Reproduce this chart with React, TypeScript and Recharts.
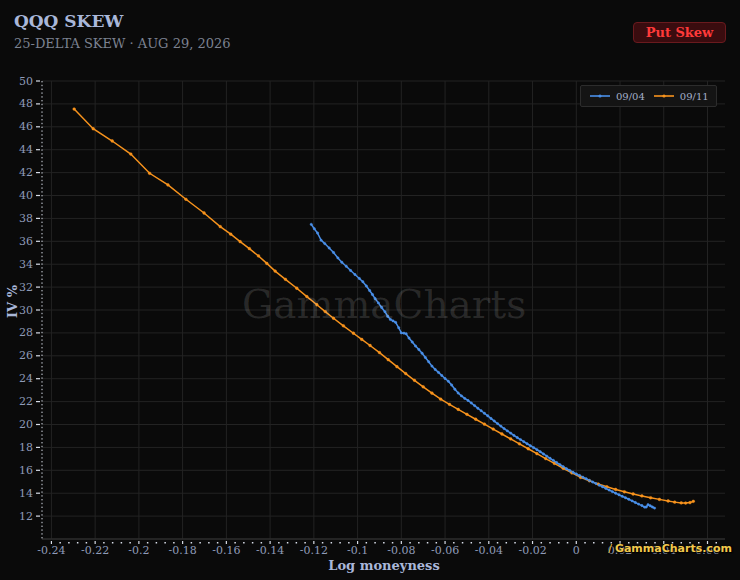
import { CartesianGrid, Line, LineChart, ReferenceLine, XAxis, YAxis } from "recharts";

// 09/04 expiry: [log moneyness, IV %]
const exp0904X = [
  -0.1212, -0.1198, -0.1183, -0.1167, -0.115, -0.113, -0.111, -0.109, -0.1072, -0.1052,
  -0.1032, -0.1012, -0.0992, -0.0976, -0.096, -0.0945, -0.0932, -0.092, -0.0905, -0.089,
  -0.0875, -0.0862, -0.085, -0.0838, -0.0826, -0.0812, -0.08, -0.0788, -0.0778, -0.0765,
  -0.075, -0.0735, -0.072, -0.0705, -0.069, -0.0675, -0.066, -0.0645, -0.063, -0.0615,
  -0.06, -0.0585, -0.057, -0.0555, -0.054, -0.0525, -0.051, -0.0495, -0.048, -0.0465,
  -0.045, -0.0435, -0.042, -0.0405, -0.039, -0.0375, -0.036, -0.0345, -0.033, -0.0315,
  -0.03, -0.0285, -0.027, -0.0255, -0.024, -0.0225, -0.021, -0.0195, -0.018, -0.0165,
  -0.015, -0.0135, -0.012, -0.0105, -0.009, -0.0075, -0.006, -0.0045, -0.003, -0.0015,
  0, 0.0015, 0.003, 0.0045, 0.006, 0.0075, 0.009, 0.0105, 0.012, 0.0135,
  0.015, 0.0165, 0.018, 0.0195, 0.021, 0.0225, 0.024, 0.0255, 0.027, 0.0285,
  0.03, 0.0313, 0.032, 0.0328, 0.0338, 0.0348, 0.0358,
];
const exp0904Iv = [
  37.48, 37.1, 36.72, 36.1, 35.8, 35.42, 35.02, 34.55, 34.17, 33.82,
  33.45, 33.1, 32.75, 32.47, 32.1, 31.7, 31.35, 31.0, 30.62, 30.22,
  29.85, 29.45, 29.18, 29.05, 28.92, 28.45, 28.0, 27.98, 27.92, 27.55,
  27.2, 26.85, 26.55, 26.22, 25.85, 25.48, 25.1, 24.8, 24.55, 24.28,
  24.02, 23.78, 23.45, 23.08, 22.75, 22.5, 22.28, 22.1, 21.88, 21.65,
  21.42, 21.2, 20.98, 20.76, 20.53, 20.3, 20.08, 19.86, 19.64, 19.44,
  19.25, 19.05, 18.86, 18.68, 18.5, 18.32, 18.15, 17.98, 17.8, 17.62,
  17.43, 17.24, 17.05, 16.87, 16.68, 16.5, 16.32, 16.14, 15.98, 15.83,
  15.68, 15.54, 15.4, 15.26, 15.12, 14.98, 14.84, 14.7, 14.56, 14.42,
  14.28, 14.14, 14.0, 13.86, 13.73, 13.6, 13.47, 13.33, 13.19, 13.05,
  12.92, 12.78, 12.8, 13.0, 12.9, 12.8, 12.7,
];

// 09/11 expiry
const exp0911X = [
  -0.2296, -0.2209, -0.2122, -0.2037, -0.1951, -0.1867, -0.1785, -0.1702, -0.1628, -0.158,
  -0.1537, -0.1495, -0.1453, -0.1415, -0.1377, -0.133, -0.1278, -0.1232, -0.1186, -0.1148,
  -0.111, -0.1065, -0.1019, -0.0981, -0.0943, -0.09, -0.086, -0.082, -0.078, -0.074,
  -0.07, -0.066, -0.062, -0.058, -0.054, -0.05, -0.046, -0.042, -0.038, -0.034,
  -0.03, -0.026, -0.022, -0.018, -0.014, -0.01, -0.006, -0.002, 0.002, 0.006,
  0.01, 0.014, 0.018, 0.022, 0.026, 0.03, 0.034, 0.038, 0.042, 0.045,
  0.048, 0.05, 0.052, 0.0535,
];
const exp0911Iv = [
  47.55, 45.83, 44.76, 43.62, 41.94, 40.92, 39.67, 38.47, 37.28, 36.62,
  35.97, 35.36, 34.72, 34.07, 33.4, 32.68, 31.9, 31.17, 30.46, 29.86,
  29.28, 28.62, 27.97, 27.43, 26.9, 26.28, 25.66, 25.05, 24.45, 23.86,
  23.29, 22.74, 22.21, 21.76, 21.32, 20.89, 20.46, 20.03, 19.6, 19.17,
  18.74, 18.31, 17.88, 17.45, 17.02, 16.6, 16.18, 15.77, 15.38, 15.08,
  14.8, 14.56, 14.33, 14.12, 13.93, 13.76, 13.6, 13.46, 13.32, 13.22,
  13.15, 13.14, 13.18, 13.29,
];

const xMajorTicks = [
  -0.24, -0.22, -0.2, -0.18, -0.16, -0.14, -0.12, -0.1, -0.08, -0.06, -0.04, -0.02, 0, 0.02,
  0.04, 0.06,
];
const yTicks = [12, 14, 16, 18, 20, 22, 24, 26, 28, 30, 32, 34, 36, 38, 40, 42, 44, 46, 48, 50];

const BLUE = "#4a8fe8";
const ORANGE = "#f7931d";
const LABEL = "#a9b7d9";
const TICK_TEXT = "#8f9bb8";
const FONT = "'DejaVu Serif', serif";

const series0904 = exp0904X.map((x, i) => ({ x, iv: exp0904Iv[i] }));
const series0911 = exp0911X.map((x, i) => ({ x, iv: exp0911Iv[i] }));

// majors plus 4 minor ticks between each pair
const xAllTicks: number[] = [];
xMajorTicks.forEach((t, i) => {
  xAllTicks.push(t);
  const next = xMajorTicks[i + 1] ?? 0.068;
  for (let k = 1; k <= 4; k++) {
    const v = +(t + k * 0.004).toFixed(4);
    if (v < next && v <= 0.068) xAllTicks.push(v);
  }
});

const isMajor = (v: number) => Math.abs(v * 50 - Math.round(v * 50)) < 1e-6;

function XTick(props: any) {
  const { x, y, payload } = props;
  const v = payload.value as number;
  if (!isMajor(v)) {
    return <rect x={x - 0.75} y={y + 1} width={1.5} height={1.5} fill="#d8dde8" />;
  }
  return (
    <g>
      <line x1={x} x2={x} y1={y} y2={y + 3} stroke="#d8dde8" strokeWidth={1.2} />
      <text x={x} y={y + 13} textAnchor="middle" fill={TICK_TEXT} fontSize={11} fontFamily={FONT}>
        {String(+v.toFixed(2))}
      </text>
    </g>
  );
}

function YTick(props: any) {
  const { x, y, payload } = props;
  return (
    <g>
      <line x1={x - 4} x2={x} y1={y} y2={y} stroke="#d8dde8" strokeWidth={1.2} />
      <text
        x={x - 7}
        y={y}
        textAnchor="end"
        dominantBaseline="central"
        fill={TICK_TEXT}
        fontSize={11}
        fontFamily={FONT}
      >
        {payload.value}
      </text>
    </g>
  );
}

function LegendItem(props: { color: string; label: string }) {
  return (
    <span style={{ display: "inline-flex", alignItems: "center", marginRight: 9 }}>
      <svg width={20} height={6} style={{ marginRight: 6 }}>
        <line x1={0} x2={20} y1={3} y2={3} stroke={props.color} strokeWidth={1.6} />
        <circle cx={10} cy={3} r={1.6} fill={props.color} />
      </svg>
      {props.label}
    </span>
  );
}

export default function App() {
  return (
    <div
      style={{
        position: "relative",
        width: 740,
        height: 580,
        background: "#0a0a0a",
        fontFamily: FONT,
        overflow: "hidden",
      }}
    >
      <style>{`body{margin:0;background:#0a0a0a}`}</style>
      <div
        style={{
          position: "absolute",
          left: 14,
          top: 11,
          fontSize: 17,
          fontWeight: 700,
          color: LABEL,
        }}
      >
        QQQ SKEW
      </div>
      <div style={{ position: "absolute", left: 14, top: 36, fontSize: 13, color: "#7c8291" }}>
        25-DELTA SKEW · AUG 29, 2026
      </div>
      <div
        style={{
          position: "absolute",
          left: 633,
          top: 22,
          width: 91,
          height: 19,
          border: "1px solid #6a1a1e",
          borderRadius: 4,
          background: "#3a0c0f",
          color: "#ff3a3a",
          fontSize: 13,
          fontWeight: 700,
          lineHeight: "19px",
          textAlign: "center",
        }}
      >
        Put Skew
      </div>

      <LineChart
        width={740}
        height={580}
        margin={{ top: 81, right: 15, bottom: 0, left: 0 }}
        style={{ position: "absolute", left: 0, top: 0 }}
      >
        <CartesianGrid vertical={false} stroke="#232323" strokeWidth={1} />
        {xMajorTicks.map((t) => (
          <ReferenceLine key={t} x={t} stroke="#232323" strokeWidth={1} />
        ))}
        <XAxis
          type="number"
          dataKey="x"
          domain={[-0.2443, 0.068]}
          allowDataOverflow
          ticks={xAllTicks}
          interval={0}
          height={41}
          tickSize={0}
          tickLine={false}
          axisLine={{ stroke: "#333333" }}
          tick={<XTick />}
        />
        <YAxis
          type="number"
          domain={[10, 50]}
          allowDataOverflow
          ticks={yTicks}
          interval={0}
          width={42}
          tickSize={0}
          tickLine={false}
          axisLine={{ stroke: "#d8dde8", strokeDasharray: "1.4 2.4" }}
          tick={<YTick />}
        />
        <Line
          data={series0911}
          dataKey="iv"
          stroke={ORANGE}
          strokeWidth={1.5}
          dot={{ r: 1.4, fill: ORANGE, stroke: ORANGE, strokeWidth: 0.4 }}
          activeDot={false}
          isAnimationActive={false}
          type="linear"
        />
        <Line
          data={series0904}
          dataKey="iv"
          stroke={BLUE}
          strokeWidth={1.5}
          dot={{ r: 1.2, fill: BLUE, stroke: BLUE, strokeWidth: 0.4 }}
          activeDot={false}
          isAnimationActive={false}
          type="linear"
        />
      </LineChart>

      <div
        style={{
          position: "absolute",
          left: 242,
          top: 282,
          fontSize: 39,
          color: "rgba(255,255,255,0.13)",
          pointerEvents: "none",
        }}
      >
        GammaCharts
      </div>

      <div
        style={{
          position: "absolute",
          left: 580,
          top: 85,
          width: 137,
          height: 22,
          background: "#141414",
          border: "1px solid #2c2c2c",
          borderRadius: 2,
          display: "flex",
          alignItems: "center",
          paddingLeft: 9,
          boxSizing: "border-box",
          fontSize: 10,
          color: "#a3aec8",
        }}
      >
        <LegendItem color={BLUE} label="09/04" />
        <LegendItem color={ORANGE} label="09/11" />
      </div>

      <div
        style={{
          position: "absolute",
          left: 2,
          top: 308,
          transform: "translateY(-50%) rotate(-90deg)",
          transformOrigin: "center",
          fontSize: 13,
          fontWeight: 700,
          color: LABEL,
          width: 20,
          textAlign: "center",
          whiteSpace: "nowrap",
        }}
      >
        IV %
      </div>
      <div
        style={{
          position: "absolute",
          left: 284,
          width: 200,
          top: 558,
          textAlign: "center",
          fontSize: 13,
          fontWeight: 700,
          color: LABEL,
        }}
      >
        Log moneyness
      </div>
      <div
        style={{
          position: "absolute",
          right: 8,
          top: 542,
          fontSize: 11,
          fontWeight: 700,
          color: "#f2c94c",
          textShadow: "0 0 2px #000, 1px 1px 1px #000",
          fontFamily: "'DejaVu Sans', sans-serif",
        }}
      >
        <span style={{ marginRight: 3, fontWeight: 400 }}>/</span>GammaCharts.com
      </div>
    </div>
  );
}
